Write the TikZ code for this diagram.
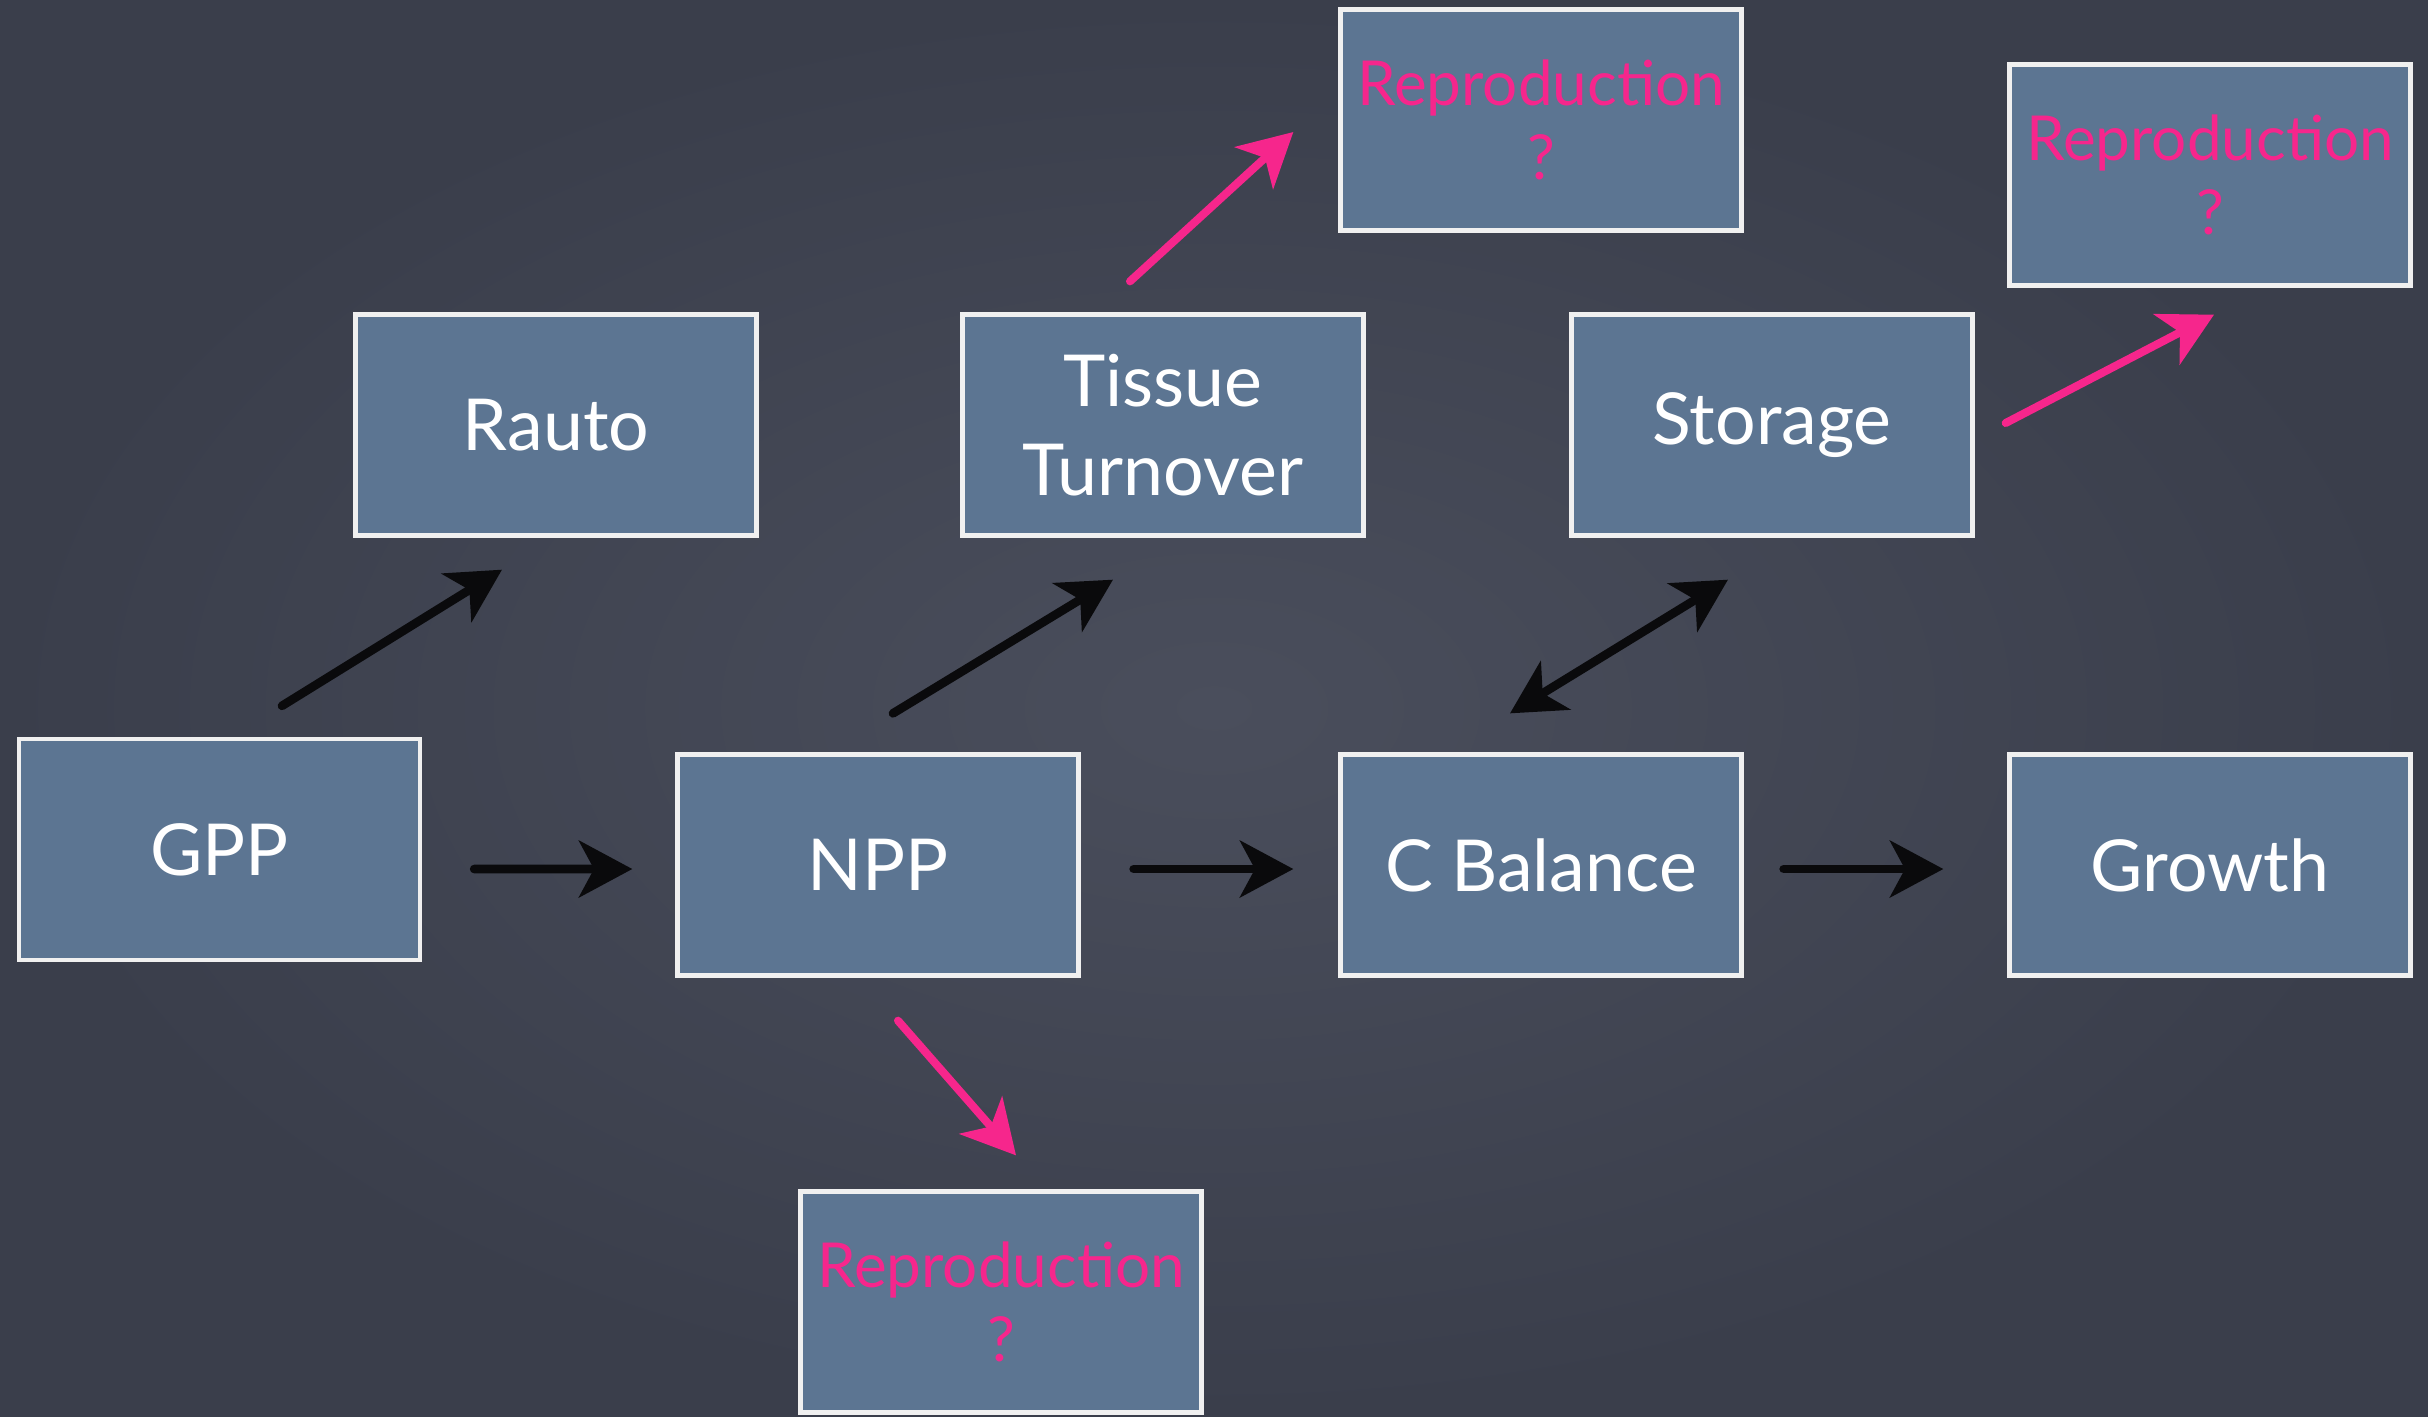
\documentclass[tikz,border=0pt]{standalone}
\usepackage{fontspec}
\setmainfont{Lato}
\usetikzlibrary{arrows.meta,calc}
\definecolor{board}{RGB}{58,62,75}
\definecolor{boardlight}{RGB}{74,78,92}
\definecolor{boxblue}{RGB}{92,117,146}
\definecolor{chalkpink}{RGB}{246,38,140}
\definecolor{chalkblack}{RGB}{10,10,12}
\tikzset{
  box/.style={draw=white!88!gray, line width=1.3pt, fill=boxblue,
    minimum width=120.3pt, minimum height=66.3pt, inner sep=0pt,
    align=center, text=white, font=\fontsize{21.5}{26.5}\selectfont},
  reprobox/.style={box, text=chalkpink, font=\fontsize{18.6}{22}\selectfont},
  blk/.style={draw=chalkblack, line width=2.6pt, line cap=round,
    -{Stealth[length=16pt,width=17pt,inset=4.5pt]}},
  blkboth/.style={draw=chalkblack, line width=2.6pt, line cap=round,
    {Stealth[length=16pt,width=17pt,inset=4.5pt]}-{Stealth[length=16pt,width=17pt,inset=4.5pt]}},
  pnk/.style={draw=chalkpink, line width=2.4pt, line cap=round,
    -{Stealth[length=16pt,width=17pt,inset=4.5pt]}},
}
\begin{document}
\begin{tikzpicture}[x=0.3pt,y=-0.3pt]
\useasboundingbox (0,0) rectangle (2428,1416);
\fill[board] (0,0) rectangle (2428,1416);
\shade[inner color=boardlight, outer color=board] (0,0) rectangle (2428,1416);

\node[box] (GPP) at (219.5,849.5) {GPP};
\node[box] (Rauto) at (556,425) {Rauto};
\node[box] (Tissue) at (1163,425) {Tissue\\Turnover};
\node[box] (Storage) at (1772,425) {Storage};
\node[reprobox] (ReproA) at (1541,120) {Reproduction\\?};
\node[reprobox] (ReproB) at (2210,175) {Reproduction\\?};
\node[box] (NPP) at (878,865) {NPP};
\node[box] (CBal) at (1541,865) {C Balance};
\node[box] (Growth) at (2210,865) {Growth};
\node[reprobox] (ReproC) at (1001,1302) {Reproduction\\?};

\draw[blk] ($(GPP.east)+(52,19.5)$) -- ($(NPP.west)+(-43,4)$);
\draw[blk] ($(NPP.east)+(53,4)$) -- ($(CBal.west)+(-45,4)$);
\draw[blk] ($(CBal.east)+(40,4)$) -- ($(Growth.west)+(-64,4)$);
\draw[blk] ($(GPP.north)+(62.5,-31)$) -- ($(Rauto.south)+(-54,32)$);
\draw[blk] ($(NPP.north)+(15,-39)$) -- ($(Tissue.south)+(-50,42)$);
\draw[blkboth] ($(CBal.north)+(-31,-39)$) -- ($(Storage.south)+(-44,42)$);
\draw[pnk] ($(Tissue.north)+(-33,-31)$) -- ($(ReproA.west)+(-45,12)$);
\draw[pnk] ($(Storage.east)+(31,-2)$) -- ($(ReproB.south)+(4,27)$);
\draw[pnk] ($(NPP.south)+(20,43)$) -- ($(ReproC.north)+(15,-34)$);
\end{tikzpicture}
\end{document}
